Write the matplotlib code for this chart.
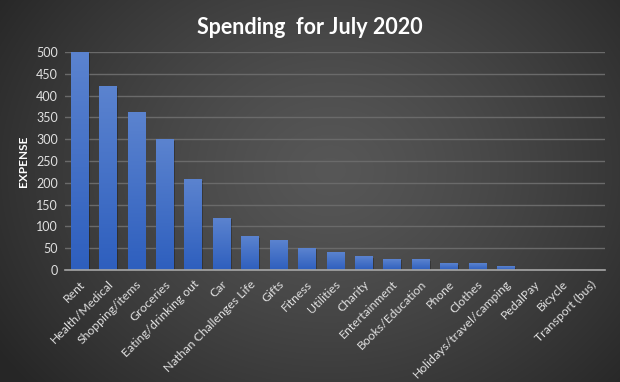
import numpy as np
import matplotlib
matplotlib.use("Agg")
import matplotlib.pyplot as plt
from matplotlib.colors import LinearSegmentedColormap

categories = ["Rent", "Health/Medical", "Shopping/items", "Groceries", "Eating/drinking out",
              "Car", "Nathan Challenges Life", "Gifts", "Fitness", "Utilities", "Charity",
              "Entertainment", "Books/Education", "Phone", "Clothes", "Holidays/travel/camping",
              "PedalPay", "Bicycle", "Transport (bus)"]
expense = [500, 420, 360, 298, 207, 119, 76, 67, 50, 39, 30, 25, 23, 14, 14, 7, 0, 0, 0]
yticks = [0, 50, 100, 150, 200, 250, 300, 350, 400, 450, 500]

plt.rcParams['font.family'] = ['Lato', 'DejaVu Sans']

fig = plt.figure(figsize=(6.2, 3.82), dpi=100)

# radial gradient background
bg = fig.add_axes([0, 0, 1, 1], zorder=0)
yy, xx = np.mgrid[0:382, 0:620]
cx, cy = 330, 170
r = np.sqrt(((xx - cx) / 400.0) ** 2 + ((yy - cy) / 330.0) ** 2)
r = np.clip(r, 0, 1)
val = 0.34 - 0.19 * r ** 1.3
img = np.dstack([val, val, val])
bg.imshow(img, aspect='auto', extent=[0, 1, 0, 1], origin='upper')
bg.set_axis_off()

ax = fig.add_axes([0.105, 0.293, 0.871, 0.571], zorder=1)
ax.patch.set_alpha(0)
x = np.arange(len(categories))
bars = ax.bar(x, expense, width=0.6, color='none', zorder=3)

cmap = LinearSegmentedColormap.from_list('b', ['#2e5fbe', '#5b83cf'])
grad = np.linspace(0, 1, 100).reshape(-1, 1)
for b in bars:
    h = b.get_height()
    if h <= 0:
        continue
    x0 = b.get_x()
    w = b.get_width()
    # shadow
    ax.add_patch(plt.Rectangle((x0 + 0.06, 0), w, h - 2, color='black', alpha=0.25, zorder=2, lw=0))
    ax.imshow(grad, extent=[x0, x0 + w, 0, h], origin='lower', cmap=cmap,
              aspect='auto', zorder=3)

ax.set_xlim(-0.5, len(categories) - 0.5)
ax.set_ylim(0, 500)
ax.set_yticks(yticks)
ax.set_yticklabels([str(v) for v in yticks], color='#e0e0e0', fontsize=9)
ax.set_xticks(x)
ax.set_xticklabels(categories, rotation=45, ha='right', rotation_mode='anchor',
                   color='#e0e0e0', fontsize=8.8)
ax.tick_params(axis='both', length=0, pad=5)
ax.tick_params(axis='x', pad=6)
for s in ['top', 'right', 'left']:
    ax.spines[s].set_visible(False)
ax.spines['bottom'].set_color('#a6a6a6')
ax.spines['bottom'].set_linewidth(1.2)
ax.spines['bottom'].set_zorder(5)
ax.yaxis.grid(True, color='#6a6a6a', linewidth=1)
ax.set_axisbelow(True)

ax.set_ylabel('EXPENSE', color='white', fontsize=8.5, fontweight='bold', labelpad=5)
fig.text(0.5, 0.927, 'Spending  for July 2020',
         ha='center', va='center', color='white', fontsize=15.5, fontweight='bold')

fig.savefig('out.png', dpi=100)
